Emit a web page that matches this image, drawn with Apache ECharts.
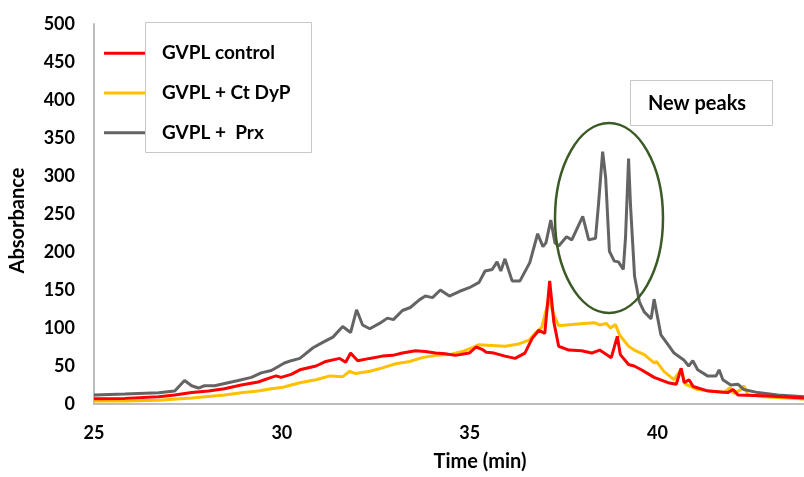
<!DOCTYPE html>
<html>
<head>
<meta charset="utf-8">
<script src="https://cdn.jsdelivr.net/npm/echarts@6/dist/echarts.min.js"></script>
<style>html,body{margin:0;padding:0;background:#fff;}#c{width:804px;height:477px;}</style>
</head>
<body>
<div id="c"></div>
<script>
const seriesNames = ['GVPL control', 'GVPL + Ct DyP', 'GVPL +  Prx'];
const xTicks = [25, 30, 35, 40];
const yTicks = [0, 50, 100, 150, 200, 250, 300, 350, 400, 450, 500];

const controlTime = [25, 25.82, 26.72, 27.15, 27.60, 28.05, 28.47, 28.92, 29.37, 29.72, 29.85, 29.98, 30.25, 30.48, 30.91, 31.17, 31.54, 31.70, 31.83, 32.02, 32.34, 32.68, 32.95, 33.21, 33.56, 33.82, 34.09, 34.35, 34.62, 34.99, 35.17, 35.33, 35.44, 35.65, 35.94, 36.21, 36.47, 36.66, 36.84, 37.0, 37.13, 37.24, 37.37, 37.64, 37.98, 38.25, 38.46, 38.77, 38.93, 39.01, 39.23, 39.38, 39.57, 39.91, 40.28, 40.50, 40.63, 40.71, 40.84, 40.95, 41.35, 41.87, 42.01, 42.14, 42.83, 43.9];
const controlAbs = [7, 7.4, 9.5, 11.7, 15, 17, 20, 25, 29, 35, 37, 35, 39, 45, 50, 56, 60, 55, 67, 57, 60, 63, 64, 67, 70, 69, 67, 66, 64, 67, 75, 72, 68, 67, 63, 60, 67, 86, 97, 93, 162, 108, 76, 71, 70, 67, 71, 61, 89, 65, 52, 50, 45, 35, 28, 26, 47, 28, 32, 23, 17, 15, 19, 12, 11, 8];

const dypTime = [25, 25.82, 26.72, 27.60, 28.47, 28.92, 29.37, 29.72, 30.03, 30.48, 30.91, 31.28, 31.62, 31.81, 31.97, 32.34, 32.68, 33.03, 33.40, 33.74, 34.09, 34.46, 34.80, 35.07, 35.23, 35.60, 35.94, 36.31, 36.58, 36.74, 36.92, 37.11, 37.24, 37.37, 37.72, 38.06, 38.32, 38.46, 38.64, 38.75, 38.88, 38.99, 39.23, 39.38, 39.65, 39.91, 39.97, 40.17, 40.44, 40.63, 40.74, 41.07, 41.42, 41.77, 41.93, 42.03, 42.22, 42.30, 42.41, 42.83, 43.9];
const dypAbs = [4, 4, 5, 7.8, 11.7, 14.7, 17, 20, 22, 28, 32, 37, 36, 43, 40, 43, 47.5, 53, 56, 61, 64, 65, 69, 74, 78, 77, 76, 79, 84, 93, 101, 138, 117, 103, 104.5, 106, 107, 104, 106, 100, 104.5, 91, 76, 71, 65, 54, 56, 43, 32, 46, 26, 19, 17, 15, 21.6, 14, 19, 24, 12, 9.5, 6.5];

const prxTime = [25.00, 25.82, 26.72, 27.15, 27.28, 27.41, 27.60, 27.78, 27.94, 28.21, 28.48, 28.84, 29.19, 29.45, 29.72, 30.07, 30.25, 30.48, 30.83, 31.09, 31.36, 31.62, 31.83, 31.99, 32.15, 32.34, 32.60, 32.81, 32.97, 33.21, 33.42, 33.66, 33.82, 34.01, 34.22, 34.46, 34.72, 34.99, 35.25, 35.41, 35.60, 35.73, 35.83, 35.94, 36.13, 36.34, 36.60, 36.81, 36.95, 37.03, 37.16, 37.27, 37.37, 37.58, 37.72, 38.01, 38.17, 38.35, 38.43, 38.54, 38.62, 38.72, 38.85, 38.96, 39.09, 39.15, 39.23, 39.28, 39.39, 39.52, 39.65, 39.83, 39.91, 40.01, 40.09, 40.28, 40.44, 40.70, 40.83, 40.94, 41.07, 41.33, 41.56, 41.64, 41.74, 41.95, 42.14, 42.30, 42.67, 43.20, 43.9];
const prxAbs = [12, 13, 14.7, 17, 24, 31, 24, 21, 24, 24, 27, 31, 35, 41, 44, 54, 57, 60, 74, 81, 88, 102, 94, 124, 104, 99, 106, 113, 111, 123, 127, 137, 142, 140, 150, 142, 148, 153, 160, 175, 177, 187, 175, 191, 162, 162, 186, 224, 207, 212, 242, 212, 208, 220, 216, 247, 216, 218, 263, 332, 298, 201, 188, 187, 177, 220, 323, 263, 168, 134, 121, 112, 138, 112, 91, 78, 67, 58, 50, 57, 45, 37, 37, 45, 32, 25, 26, 19, 15, 12, 9.5];

const colors = ['#ff0000', '#ffc000', '#646464'];
const FONT = 'Lato, "Open Sans", sans-serif';

function pairs(t, v) { return t.map((x, i) => [x, v[i]]); }

const chart = echarts.init(document.getElementById('c'), null, { renderer: 'canvas' });
chart.setOption({
  animation: false,
  backgroundColor: '#ffffff',
  grid: { left: 90, right: 0, top: 24, bottom: 67, containLabel: false },
  xAxis: {
    type: 'value', min: xTicks[0], max: 43.9, interval: 5,
    name: 'Time (min)', nameLocation: 'middle', nameGap: 48,
    nameTextStyle: { fontFamily: FONT, fontWeight: 'bold', fontSize: 20, color: '#000', padding: [0, 0, 0, 62] },
    axisLine: { show: true, lineStyle: { color: '#bdbdbd', width: 2 } },
    axisTick: { show: false },
    splitLine: { show: false },
    axisLabel: { showMaxLabel: false, margin: 20, fontFamily: FONT, fontWeight: 'bold', fontSize: 18, color: '#000' }
  },
  yAxis: {
    type: 'value', min: yTicks[0], max: yTicks[yTicks.length - 1], interval: 50,
    name: 'Absorbance', nameLocation: 'middle', nameGap: 66,
    nameTextStyle: { fontFamily: FONT, fontWeight: 'bold', fontSize: 20, color: '#000', padding: [0, 13, 0, 0] },
    axisLine: { show: true, lineStyle: { color: '#bdbdbd', width: 2 } },
    axisTick: { show: false },
    splitLine: { show: false },
    axisLabel: { margin: 19, fontFamily: FONT, fontWeight: 'bold', fontSize: 18, color: '#000' }
  },
  legend: {
    orient: 'vertical', left: 104, top: 42.3, padding: 0,
    icon: 'rect', itemWidth: 41, itemHeight: 3, itemGap: 17.7,
    textStyle: { fontFamily: FONT, fontWeight: 'bold', fontSize: 19, color: '#000', lineHeight: 22, padding: [0, 0, 0, 12] },
    data: seriesNames
  },
  graphic: [
    { type: 'rect', z: 1, shape: { x: 145.5, y: 22.5, width: 166, height: 130 }, style: { fill: '#fff', stroke: '#c8c8c8', lineWidth: 1 } },
    { type: 'rect', z: 1, shape: { x: 630.5, y: 80.5, width: 142, height: 45 }, style: { fill: '#fff', stroke: '#c8c8c8', lineWidth: 1 } },
    { type: 'text', z: 2, x: 697, y: 104, style: { text: 'New peaks', fontFamily: FONT, fontWeight: 'bold', fontSize: 20, fill: '#000', textAlign: 'center', textVerticalAlign: 'middle' } },
    { type: 'ellipse', z: 10, shape: { cx: 609, cy: 218, rx: 54, ry: 95 }, style: { fill: 'none', stroke: '#3a5a26', lineWidth: 2.5 } }
  ],
  series: [
    { name: seriesNames[0], type: 'line', data: pairs(controlTime, controlAbs), showSymbol: false, color: colors[0], lineStyle: { width: 3 }, z: 3 },
    { name: seriesNames[1], type: 'line', data: pairs(dypTime, dypAbs), showSymbol: false, color: colors[1], lineStyle: { width: 3 }, z: 2 },
    { name: seriesNames[2], type: 'line', data: pairs(prxTime, prxAbs), showSymbol: false, color: colors[2], lineStyle: { width: 3 }, z: 2 }
  ]
});
</script>
</body>
</html>
